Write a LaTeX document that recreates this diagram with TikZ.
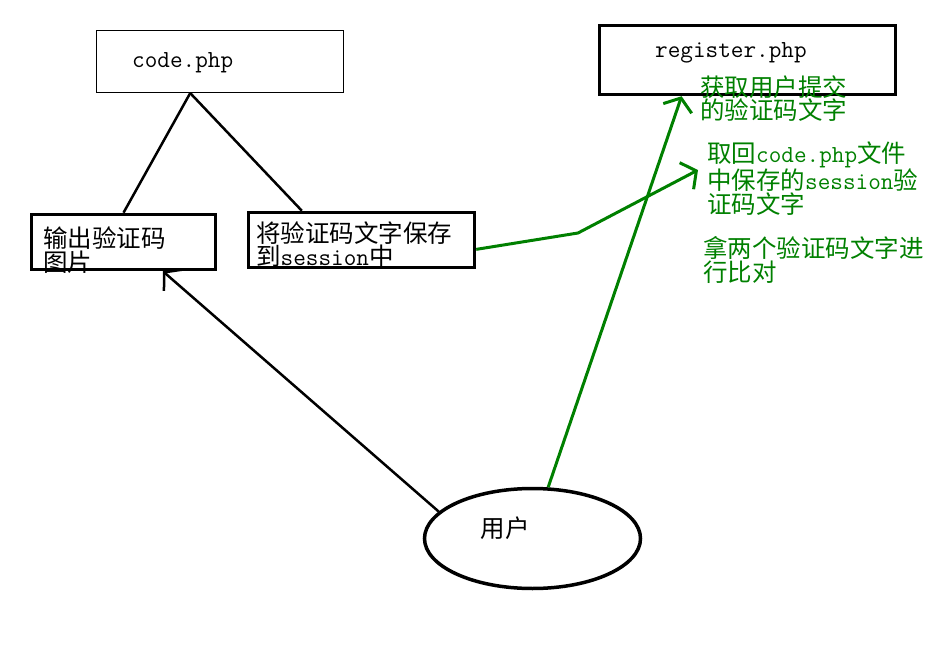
\documentclass[tikz,border=0pt]{standalone}
\usepackage{fontspec}
\newfontfamily\cjk{Noto Sans CJK SC}
\usetikzlibrary{arrows.meta, positioning, shapes.geometric, calc}
\definecolor{darkgreen}{RGB}{0,128,0}

\begin{document}
\begin{tikzpicture}[x=1pt, y=-1pt,
    box/.style={draw, line width=3.5pt, inner sep=0pt},
    txt/.style={inner sep=0pt, align=left, anchor=west, font=\cjk\fontsize{24.5}{23.5}\selectfont},
    gtxt/.style={txt, text=darkgreen},
    conn/.style={line width=2.5pt},
    garrow/.style={draw=darkgreen, line width=3pt, -{Straight Barb[length=11pt, width=30pt]}}]
    \useasboundingbox (0,0) rectangle (942,655);

    % Boxes
    \node[draw, line width=1.2pt, minimum width=247pt, minimum height=62pt] (code) at (220,61.5) {};
    \node[box, minimum width=296pt, minimum height=69pt] (reg) at (747.5,60) {};
    \node[box, minimum width=184pt, minimum height=55pt] (img) at (123.5,242) {};
    \node[box, minimum width=226pt, minimum height=55pt] (save) at (361.5,240) {};
    \node[ellipse, draw, line width=3.5pt, minimum width=216pt, minimum height=100pt] (user) at (532.5,538.5) {};

    % Texts
    \node[txt] (codetxt) at (132,63) {\texttt{code.php}};
    \node[txt] (regtxt) at (655,53) {\texttt{register.php}};
    \node[txt] (imgtxt) at (43,250) {输出验证码\\图片};
    \node[txt] (savetxt) at (256,244.5) {将验证码文字保存\\到\texttt{session}中};
    \node[txt, anchor=center] (usertxt) at (505,528) {用户};
    \node[gtxt] (fetchtxt) at (700,98.5) {获取用户提交\\的验证码文字};
    \node[gtxt] (backtxt) at (707,178.5) {取回\texttt{code.php}文件\\中保存的\texttt{session}验\\证码文字};
    \node[gtxt] (cmptxt) at (703,260) {拿两个验证码文字进\\行比对};

    % code.php split
    \coordinate (apex) at ($(code.south west)!0.38!(code.south east)$);
    \draw[conn] (apex) -- (img.north);
    \draw[conn] (apex) -- ($(save.north west)!0.24!(save.north east)$);

    % user requests
    \draw[conn, -{Straight Barb[length=12pt, width=28pt]}] (user.164) -- ($(img.south west)!0.71!(img.south east)$);
    \draw[garrow] (user.73) -- ($(reg.south west)!0.28!(reg.south east)$);

    % session to register.php
    \coordinate (bend) at (578,233);
    \coordinate (tip) at (698,170);
    \draw[garrow] ($(save.north east)!0.66!(save.south east)$) -- (bend) -- (tip);
\end{tikzpicture}
\end{document}
